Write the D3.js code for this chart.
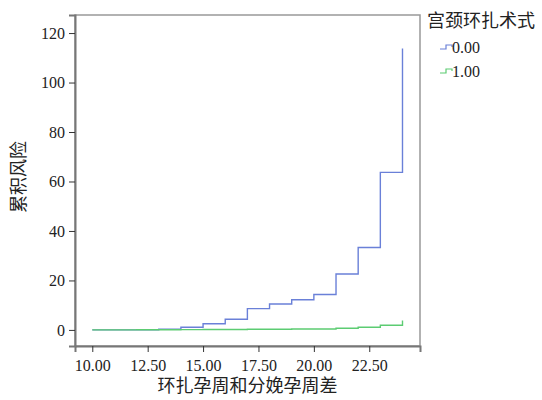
<!doctype html>
<html>
<head>
<meta charset="utf-8">
<script src="https://d3js.org/d3.v7.min.js"></script>
<style>
  body { margin: 0; background: #fff; }
  text { font-family: "Liberation Serif", "Noto Sans CJK SC", serif; fill: #222; }
</style>
</head>
<body>
<script>
// survival steps: time points and cumulative hazard for each group
var times = [10, 11, 12, 13, 14, 15, 16, 17, 18, 19, 20, 21, 22, 23, 24];
var hazard0 = [0, 0, 0, 0.3, 1.1, 2.5, 4.3, 8.6, 10.5, 12.2, 14.3, 22.6, 33.3, 63.7, 113.8];
var hazard1 = [0, 0.03, 0.06, 0.09, 0.12, 0.15, 0.2, 0.25, 0.3, 0.35, 0.4, 0.7, 1.1, 1.9, 3.8];
var groups = ["0.00", "1.00"];
var colors = ["#6a80d8", "#5ccc72"];
var xTicks = [10, 12.5, 15, 17.5, 20, 22.5];
var yTicks = [0, 20, 40, 60, 80, 100, 120];

var width = 542, height = 400;
var pLeft = 75, pTop = 15, pRight = 420, pBottom = 346;

var svg = d3.select("body").append("svg")
    .attr("width", width)
    .attr("height", height);

var x = d3.scaleLinear().domain([9.22, 24.79]).range([pLeft, pRight]);
var y = d3.scaleLinear().domain([-6.5, 127.3]).range([pBottom, pTop]);

// frame
svg.append("rect")
    .attr("x", pLeft).attr("y", pTop)
    .attr("width", pRight - pLeft).attr("height", pBottom - pTop)
    .attr("fill", "none")
    .attr("stroke", "#999")
    .attr("stroke-width", 1.5);

// x axis
var xAxis = svg.append("g")
    .attr("transform", "translate(0," + pBottom + ")")
    .call(d3.axisBottom(x).tickValues(xTicks).tickFormat(d3.format(".2f")).tickSize(6).tickPadding(8));
xAxis.select(".domain").attr("stroke", "#777").attr("stroke-width", 2);
xAxis.selectAll(".tick line").attr("stroke", "#333");
xAxis.selectAll("text").attr("font-size", 16).attr("fill", "#222");

// y axis
var yAxis = svg.append("g")
    .attr("transform", "translate(" + pLeft + ",0)")
    .call(d3.axisLeft(y).tickValues(yTicks).tickSize(6).tickPadding(4));
yAxis.select(".domain").attr("stroke", "#777").attr("stroke-width", 2);
yAxis.selectAll(".tick line").attr("stroke", "#333");
yAxis.selectAll("text").attr("font-size", 16).attr("fill", "#222");

// step lines
var line = d3.line()
    .x(function(d) { return x(d[0]); })
    .y(function(d) { return y(d[1]); })
    .curve(d3.curveStepAfter);

[hazard0, hazard1].forEach(function(h, i) {
    var pts = times.map(function(t, j) { return [t, h[j]]; });
    svg.append("path")
        .datum(pts)
        .attr("d", line)
        .attr("fill", "none")
        .attr("stroke", colors[i])
        .attr("stroke-width", 1.4);
});

// axis labels
svg.append("text")
    .attr("x", (pLeft + pRight) / 2)
    .attr("y", 392)
    .attr("text-anchor", "middle")
    .attr("font-size", 18)
    .text("环扎孕周和分娩孕周差");

svg.append("text")
    .attr("transform", "translate(25," + 177 + ") rotate(-90)")
    .attr("text-anchor", "middle")
    .attr("font-size", 18)
    .text("累积风险");

// legend
svg.append("text")
    .attr("x", 427)
    .attr("y", 27)
    .attr("font-size", 18)
    .text("宫颈环扎术式");

groups.forEach(function(g, i) {
    var ly = 47 + i * 24;
    svg.append("path")
        .attr("d", "M440," + (ly + 2) + "H446V" + (ly - 2) + "H452V" + ly)
        .attr("fill", "none")
        .attr("stroke", colors[i])
        .attr("stroke-width", 1.2);
    svg.append("text")
        .attr("x", 452)
        .attr("y", ly + 6)
        .attr("font-size", 16)
        .text(g);
});
</script>
</body>
</html>
